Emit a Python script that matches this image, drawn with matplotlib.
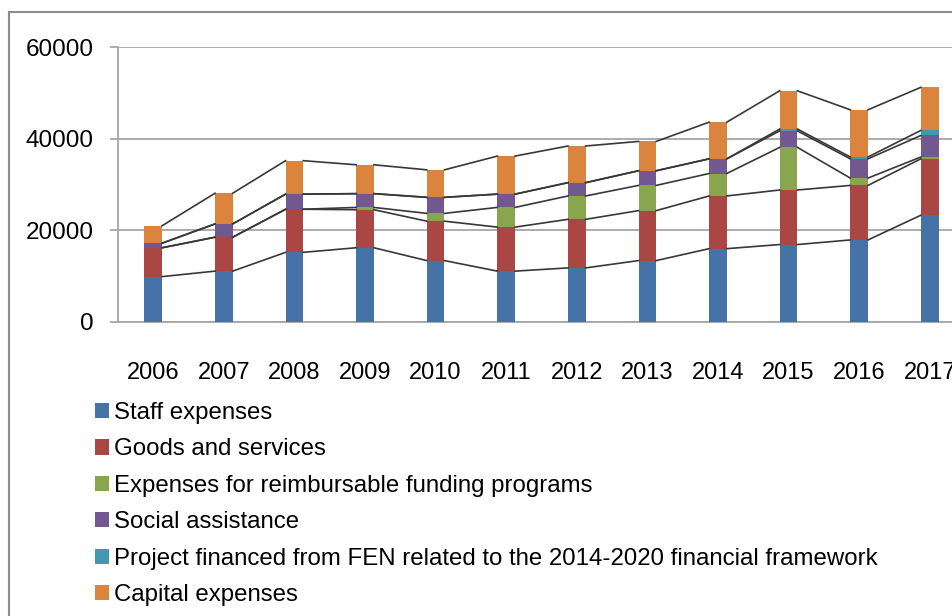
import matplotlib as mpl
mpl.use('Agg')
import matplotlib.pyplot as plt
from matplotlib.patches import Patch, Rectangle
import numpy as np

# data
years = ['2006', '2007', '2008', '2009', '2010', '2011',
         '2012', '2013', '2014', '2015', '2016', '2017']
staff = [9900, 11100, 15200, 16200, 13400, 11100, 11800, 13400, 16000, 16900, 17900, 23300]
goods = [6300, 7400, 9400, 8300, 8600, 9600, 10600, 10900, 11500, 11900, 11900, 12300]
reimb = [0, 0, 0, 500, 1700, 4300, 5100, 5500, 4900, 9300, 1600, 400]
social = [1000, 2900, 3300, 3000, 3500, 2900, 2900, 3200, 3200, 3600, 4200, 4700]
fen = [0, 0, 0, 0, 0, 0, 0, 0, 0, 400, 400, 1100]
capital = [3800, 6700, 7300, 6300, 6000, 8300, 8000, 6400, 8000, 8350, 10300, 9400]

labels = ['Staff expenses', 'Goods and services',
          'Expenses for reimbursable funding programs', 'Social assistance',
          'Project financed from FEN related to the 2014-2020 financial framework',
          'Capital expenses']
colors = ['#4572A7', '#AA4643', '#89A54E', '#71588F', '#4198AF', '#DB843D']
series = [staff, goods, reimb, social, fen, capital]

plt.rcParams['font.family'] = ['Liberation Sans', 'DejaVu Sans']

fig = plt.figure(figsize=(9.53, 6.16), dpi=100)
W, H = 953., 616.
ax = fig.add_axes([118/W, 1-322/H, (965-118)/W, (322-47)/H])

x = np.arange(len(years))
bw = 0.25
bottom = np.zeros(len(years))
for vals, col in zip(series, colors):
    vals = np.array(vals, dtype=float)
    ax.bar(x, vals, bw, bottom=bottom, color=col, zorder=3)
    bottom = bottom + vals
    # series lines between neighbouring bars
    for i in range(len(years)-1):
        ax.plot([x[i]+bw/2, x[i+1]-bw/2], [bottom[i], bottom[i+1]],
                color='#383838', lw=1.2, zorder=4)

ax.set_xlim(-0.5, len(years)-0.5)
ax.set_ylim(0, 60000)
ax.set_yticks([0, 20000, 40000, 60000])
ax.set_xticks(x)
ax.set_xticklabels(years)
ax.yaxis.grid(True, color='#a6a6a6', lw=1.3, zorder=0)
for s in ['top', 'right']:
    ax.spines[s].set_visible(False)
for s in ['left', 'bottom']:
    ax.spines[s].set_color('#a6a6a6')
    ax.spines[s].set_linewidth(1.3)
ax.tick_params(axis='y', length=5.8, width=1.3, color='#a6a6a6', pad=12, labelsize=17.5)
ax.tick_params(axis='x', length=0, pad=29, labelsize=17)

handles = [Patch(facecolor=c, edgecolor='none') for c in colors]
fig.legend(handles, labels, loc='upper left', bbox_to_anchor=(95/W, 1-402/H),
           frameon=False, fontsize=17.3, borderpad=0, borderaxespad=0,
           handlelength=0.6, handleheight=0.6, handletextpad=0.2,
           labelspacing=0.6)

# outer chart border
fig.patches.append(Rectangle((9.5/W, -0.1), 2, 1.1-12/H, transform=fig.transFigure,
                             fill=False, edgecolor='#8c8c8c', lw=1.5))

plt.savefig('out.png', dpi=100)
